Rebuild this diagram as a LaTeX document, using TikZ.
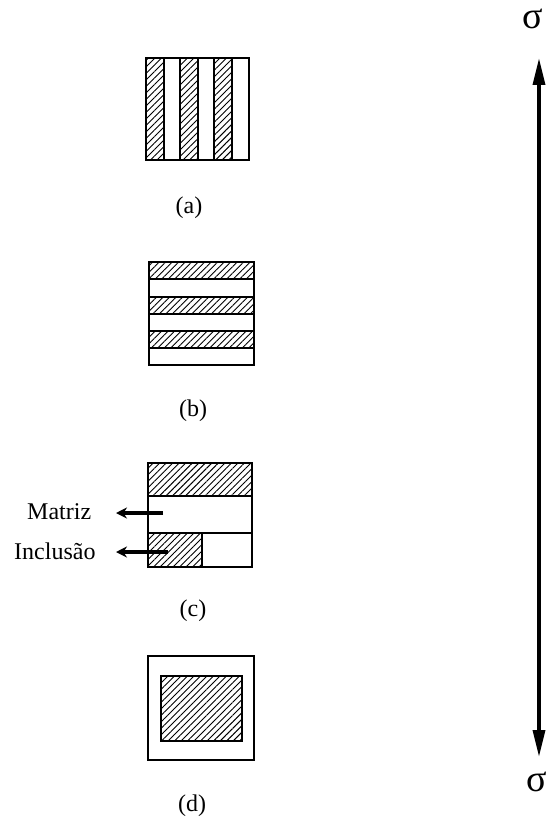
\documentclass[tikz,border=0pt]{standalone}
\usepackage{fontspec}
\setmainfont{Liberation Serif}
\usetikzlibrary{patterns.meta,arrows.meta}
\begin{document}
\begin{tikzpicture}[x=1pt,y=-1pt,
  hatch/.style={pattern={Lines[angle=45,distance=4.6pt,line width=0.9pt]},draw=black,line width=1.6pt},
  frame/.style={draw=black,line width=2pt},
  caption/.style={font=\fontsize{24}{28}\selectfont,inner sep=0pt},
  sidetext/.style={font=\fontsize{24}{28}\selectfont,inner sep=0pt},
  pointer/.style={line width=3.2pt,-{Stealth[length=11pt,width=11pt]}},
  stressarrow/.style={line width=3.4pt,{Triangle[length=27pt,width=12pt]}-{Triangle[length=27pt,width=12pt]}},
  sigma/.style={font=\fontsize{38}{42}\selectfont,inner sep=0pt}]
\useasboundingbox (0,0) rectangle (548,818);

% (a) vertical layers
\foreach \xa in {146,180,214}
  \draw[hatch] (\xa,58) rectangle (\xa+18,160);
\draw[frame] (146,58) rectangle (249,160);
\node[caption] (capA) at (189,208) {(a)};

% (b) horizontal layers
\foreach \ya in {262,297,331}
  \draw[hatch] (149,\ya) rectangle (254,\ya+17);
\draw[frame] (149,262) rectangle (254,365);
\node[caption] (capB) at (193,411) {(b)};

% (c) layer with inclusion
\draw[hatch] (148,463) rectangle (252,496);
\draw[frame] (148,496) -- (252,496);
\draw[frame] (148,533) -- (252,533);
\draw[hatch] (148,533) rectangle (202,567);
\draw[frame] (148,463) rectangle (252,567);
\node[caption] (capC) at (193,611) {(c)};

\node[sidetext,anchor=west] (matriz) at (27,512) {Matriz};
\node[sidetext,anchor=west] (inclusao) at (14,551) {Inclusão};
\coordinate (mIn) at (163,513);
\coordinate (mTip) at (116,513);
\coordinate (iIn) at (168,552);
\coordinate (iTip) at (116,552);
\draw[pointer] (mIn) -- (mTip);
\draw[pointer] (iIn) -- (iTip);

% (d) embedded particle
\draw[frame] (148,656) rectangle (254,760);
\draw[hatch] (161,676) rectangle (242,741);
\node[caption] (capD) at (192,806) {(d)};

% stress axis
\node[sigma] (sTop) at (533,19) {σ};
\node[sigma] (sBot) at (537,782) {σ};
\coordinate (aTop) at (539,58);
\coordinate (aBot) at (539,757);
\draw[stressarrow] (aBot) -- (aTop);
\end{tikzpicture}
\end{document}
